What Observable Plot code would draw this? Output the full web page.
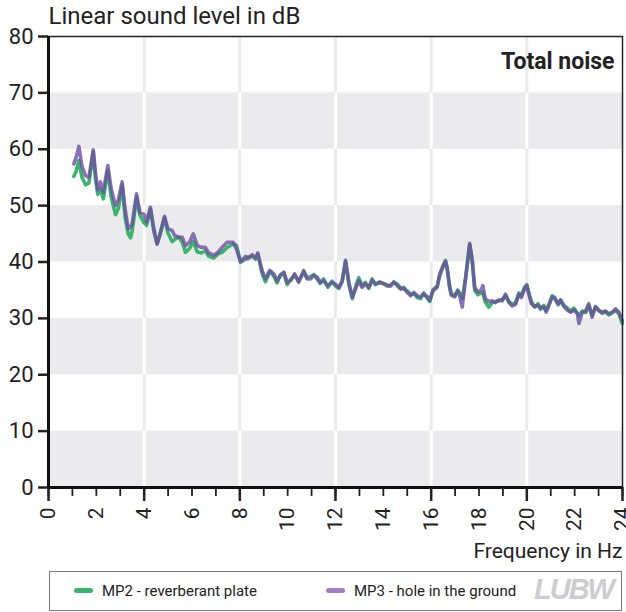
<!DOCTYPE html>
<html><head><meta charset="utf-8">
<script src="https://cdn.jsdelivr.net/npm/d3@7"></script>
<script src="https://cdn.jsdelivr.net/npm/@observablehq/plot@0.6"></script>
<style>
body{margin:0;background:#fff;font-family:Roboto,"Liberation Sans",sans-serif;color:#222;}
#wrap{position:relative;width:626px;height:612px;}
#legend{position:absolute;left:49px;top:571px;width:573px;height:40px;box-sizing:border-box;border:1.5px solid #7d7d7d;display:flex;align-items:center;font-size:15px;color:#222;}
.item{display:flex;align-items:center;position:absolute;top:0;height:37px;}
.sw{display:inline-block;width:19px;height:5px;border-radius:3px;margin-right:9px;}
#logo{position:absolute;right:8px;top:1px;font-size:29px;font-weight:900;font-style:italic;color:#cdcdd1;letter-spacing:-2px;font-family:"Liberation Sans",sans-serif;}
</style></head><body>
<div id="wrap"><div id="chart"></div><div id="legend"></div></div>
<script>
const freq = [1.06,1.15,1.27,1.40,1.55,1.69,1.87,1.97,2.06,2.17,2.29,2.48,2.62,2.80,2.92,3.08,3.20,3.33,3.43,3.50,3.68,3.82,3.99,4.10,4.26,4.40,4.54,4.68,4.85,4.99,5.17,5.27,5.45,5.59,5.73,5.91,6.05,6.22,6.39,6.56,6.70,6.91,7.08,7.26,7.47,7.72,7.86,8.03,8.24,8.34,8.52,8.66,8.75,8.93,9.07,9.25,9.42,9.56,9.70,9.84,9.98,10.15,10.29,10.46,10.67,10.81,10.95,11.09,11.23,11.36,11.50,11.68,11.85,11.99,12.14,12.28,12.42,12.56,12.70,12.84,12.97,13.11,13.25,13.39,13.53,13.67,13.85,14.02,14.16,14.30,14.44,14.58,14.72,14.86,15.00,15.14,15.28,15.42,15.55,15.69,15.83,15.94,16.08,16.25,16.36,16.50,16.60,16.67,16.77,16.84,16.98,17.11,17.19,17.30,17.44,17.61,17.72,17.82,17.95,18.09,18.16,18.26,18.41,18.55,18.69,18.83,18.97,19.11,19.25,19.39,19.53,19.67,19.77,19.90,20.00,20.08,20.19,20.33,20.47,20.57,20.71,20.81,20.95,21.06,21.17,21.31,21.41,21.55,21.69,21.83,21.97,22.11,22.18,22.32,22.46,22.59,22.73,22.87,23.01,23.15,23.29,23.43,23.57,23.71,23.85,23.99];
const mp2 = [55.2,56.0,58.0,55.0,53.7,54.0,59.5,54.5,52.0,53.0,51.2,56.3,51.5,48.4,49.5,53.6,48.0,45.0,44.3,45.5,51.5,48.3,47.0,46.5,49.4,45.5,43.2,45.0,47.9,45.2,43.6,44.0,44.4,43.5,41.7,42.5,43.6,41.8,41.6,42.0,41.0,40.7,41.4,41.7,42.6,43.2,43.0,40.0,40.5,40.9,41.0,40.5,41.4,38.0,36.5,38.3,37.5,36.3,37.8,38.0,36.0,37.0,37.7,36.6,38.2,37.2,37.4,37.8,37.0,36.2,37.0,35.5,36.6,35.8,35.3,36.5,40.1,36.0,33.5,35.6,37.2,35.8,36.4,35.3,37.0,36.0,36.3,36.2,35.7,35.9,36.3,36.1,35.4,35.2,34.9,34.3,34.4,33.7,33.5,34.5,33.6,33.0,35.1,35.7,37.6,39.2,40.3,39.0,35.8,34.4,34.0,35.0,34.5,33.5,37.2,43.1,40.0,35.0,34.2,34.5,34.5,32.9,32.0,32.8,33.0,33.1,33.3,34.0,33.0,32.5,32.8,34.5,34.0,35.5,36.0,34.6,32.9,32.0,32.6,31.6,32.3,31.4,32.8,34.0,33.7,32.4,33.3,32.3,31.8,31.3,31.8,31.0,30.5,31.3,31.0,32.3,30.5,32.0,31.5,30.9,31.2,30.6,31.0,31.4,30.8,29.1];
const mp3 = [57.4,58.5,60.5,57.0,55.3,55.0,59.9,55.5,52.8,54.2,52.4,57.1,53.0,50.0,51.0,54.2,49.5,45.9,46.2,46.8,52.1,48.8,48.5,47.1,49.7,46.0,43.2,45.3,48.1,45.9,45.6,44.7,44.4,44.4,42.9,43.6,45.0,42.9,42.6,42.6,41.6,41.2,41.7,42.6,43.5,43.5,42.3,40.0,41.0,40.6,41.3,40.7,41.6,38.5,37.0,38.5,37.9,36.7,37.6,38.2,36.4,36.8,37.9,36.4,38.5,37.0,37.0,37.6,37.3,36.4,36.7,35.8,36.4,36.1,35.5,36.7,40.3,36.4,33.8,35.2,36.7,35.5,36.1,35.5,36.7,36.1,36.5,36.1,35.9,35.7,36.5,35.8,35.2,35.5,34.6,34.0,34.6,34.0,33.8,34.3,33.9,33.2,34.9,35.5,37.9,39.4,40.1,38.8,35.5,34.1,33.8,34.9,34.1,32.0,37.0,43.3,40.3,35.5,34.7,35.0,35.8,33.5,33.0,33.1,32.8,33.3,33.1,34.3,32.8,32.2,32.5,34.3,33.7,35.2,35.8,34.4,32.6,32.1,32.3,31.9,32.0,31.1,32.6,33.8,33.5,32.6,33.2,32.1,31.5,31.1,31.5,30.8,29.1,31.1,31.3,32.6,30.2,32.1,31.3,31.1,31.3,30.8,31.1,31.7,31.1,29.6];

const seriesNames = ["MP2 - reverberant plate", "MP3 - hole in the ground"];
const swatchColors = ["#3bb46c", "#a07fc6"];
const lineColors = ["#3bb46c", "#6e4ea3"];
const yTicks = [0,10,20,30,40,50,60,70,80];
const xLabelTicks = [0,2,4,6,8,10,12,14,16,18,20,22,24];
const xMinorTicks = [0,1,2,3,4,5,6,7,8,9,10,11,12,13,14,15,16,17,18,19,20,21,22,23,24];
const xMajorTicks = [0,4,8,12,16,20,24];
const xGrid = [4,8,12,16,20];
const xDomain = [0,24];
const yDomain = [0,80];
const titleText = "Linear sound level in dB";
const xTitle = "Frequency in Hz";
const panelTitle = "Total noise";

const rows2 = freq.map((f,i)=>({f, v: mp2[i]}));
const rows3 = freq.map((f,i)=>({f, v: mp3[i]}));
const bands = yTicks.slice(0,-1).map((v,i)=>({y1:v, y2:yTicks[i+1], gray: i%2===0}));
const gridCells = bands.flatMap(b => xGrid.map(g => ({x:g, y1:b.y1, y2:b.y2, gray:b.gray})));

const chart = Plot.plot({
  width: 626, height: 570,
  marginLeft: 48, marginRight: 4, marginTop: 36, marginBottom: 83,
  x: {domain: xDomain, axis: null},
  y: {domain: yDomain, axis: null},
  style: {fontFamily: "Roboto, 'Liberation Sans', sans-serif", color: "#222", background: "#fff", overflow: "visible"},
  marks: [
    Plot.rect(bands.filter(b=>b.gray), {x1: () => xDomain[0], x2: () => xDomain[1], y1: "y1", y2: "y2", fill: "#ebebee"}),
    Plot.ruleX(gridCells, {x: "x", y1: "y1", y2: "y2", stroke: d => d.gray ? "#ffffff" : "#ebebee", strokeWidth: 3}),
    Plot.line(rows2, {x: "f", y: "v", stroke: lineColors[0], strokeWidth: 3.6, strokeLinejoin: "round"}),
    Plot.line(rows3, {x: "f", y: "v", stroke: lineColors[1], strokeWidth: 3.6, strokeOpacity: 0.8, strokeLinejoin: "round"}),
    Plot.ruleY([yDomain[1]], {stroke: "#222", strokeWidth: 1.5}),
    Plot.ruleX([xDomain[1]], {stroke: "#222", strokeWidth: 1.5}),
    Plot.axisY({ticks: yTicks, tickSize: 10, tickPadding: 5, fontSize: 22, label: null, strokeWidth: 2.5, tickFormat: d => String(d)}),
    Plot.axisX({ticks: xMinorTicks, tickSize: 9, text: null, label: null, strokeWidth: 1.8}),
    Plot.axisX({ticks: xMajorTicks, tickSize: 14, text: null, label: null, strokeWidth: 2.5}),
    Plot.axisX({ticks: xLabelTicks, tickSize: 0, tickPadding: 20, tickRotate: -90, fontSize: 21, label: null, tickFormat: d => String(d)}),
    Plot.ruleX([xDomain[0]], {stroke: "#111", strokeWidth: 3}),
    Plot.ruleY([yDomain[0]], {stroke: "#111", strokeWidth: 3}),
    Plot.text([titleText], {frameAnchor: "top-left", textAnchor: "start", lineAnchor: "middle", dy: -20, fontSize: 24, fill: "#222"}),
    Plot.text([panelTitle], {frameAnchor: "top-right", textAnchor: "end", lineAnchor: "middle", dx: -8, dy: 25, fontSize: 23, fontWeight: "bold", fill: "#222"}),
    Plot.text([xTitle], {frameAnchor: "bottom-right", textAnchor: "end", lineAnchor: "middle", dy: 64, fontSize: 21, fill: "#222"})
  ]
});
document.getElementById("chart").appendChild(chart);

const legend = document.getElementById("legend");
const lefts = [24, 276];
seriesNames.forEach((name, i) => {
  const it = document.createElement("div");
  it.className = "item";
  it.style.left = lefts[i] + "px";
  const sw = document.createElement("span");
  sw.className = "sw";
  sw.style.background = swatchColors[i];
  const t = document.createElement("span");
  t.textContent = name;
  it.appendChild(sw); it.appendChild(t);
  legend.appendChild(it);
});
const logo = document.createElement("div");
logo.id = "logo"; logo.textContent = "LUBW";
legend.appendChild(logo);
</script>
</body></html>
